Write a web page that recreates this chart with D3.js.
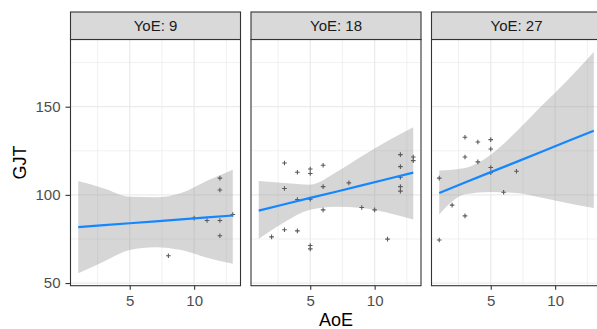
<!DOCTYPE html>
<html>
<head>
<meta charset="utf-8">
<script src="https://cdn.jsdelivr.net/npm/d3@7/dist/d3.min.js"></script>
<style>
  body { margin: 0; background: #fff; }
  svg { font-family: "Liberation Sans", Arial, sans-serif; display: block; }
</style>
</head>
<body>
<div id="chart"></div>
<script>
// facet labels
var facets = ["YoE: 9", "YoE: 18", "YoE: 27"];

// observed points, one list per facet: [AoE, GJT]
var points9 = [[12,109.5],[12,102.8],[10,86.8],[11,85.5],[12,85.5],[13,88.9],[12,76.8],[8,65.5]];
var points18 = [[2,76.2],[3,118.1],[3,103.6],[3,80.2],[4,112.8],[4,97.3],[4,79.6],[5,114.7],[5,112.1],
    [5,97.6],[5,71.3],[5,69.4],[6,116.8],[6,104.7],[6,91.5],[8,106.8],[9,92.8],[10,91.5],[11,74.9],
    [12,122.8],[12,116.0],[12,110.0],[12,104.7],[12,102.1],[13,121.5],[13,119.4]];
var points27 = [[1,109.5],[1,74.4],[2,94.2],[3,132.7],[3,121.5],[3,88.1],[4,130.0],[4,118.7],
    [5,131.3],[5,126.0],[5,115.5],[5,112.6],[6,101.5],[7,113.4]];

// fitted line and confidence band read at these AoE values
var fitX = [1, 3, 5, 7, 9, 11, 13];
var fit9 = [81.7, 82.8, 83.9, 85.0, 86.1, 87.2, 88.3];
var lo9  = [55.5, 62.2, 68.8, 70.3, 68.7, 64.4, 61.0];
var hi9  = [107.8, 103.6, 98.9, 98.7, 101.1, 108.0, 114.3];
var fit18 = [91.1, 94.7, 98.3, 101.8, 105.4, 109.0, 112.6];
var lo18  = [75.1, 84.5, 91.5, 93.2, 92.5, 89.9, 86.0];
var hi18  = [107.8, 106.7, 105.8, 112.8, 121.9, 130.5, 138.3];
var fit27 = [101.1, 107.0, 112.9, 118.7, 124.6, 130.5, 136.4];
var lo27  = [88.9, 100.3, 101.7, 101.0, 98.3, 95.2, 92.6];
var hi27  = [113.8, 115.3, 122.8, 136.0, 150.8, 165.3, 181.0];

var xTicks = [5, 10];
var yTicks = [50, 100, 150];
var xMinor = [2.5, 7.5, 12.5];
var yMinor = [75, 125, 175];

var panels = [
    {label: facets[0], pts: points9, fit: fit9, lo: lo9, hi: hi9},
    {label: facets[1], pts: points18, fit: fit18, lo: lo18, hi: hi18},
    {label: facets[2], pts: points27, fit: fit27, lo: lo27, hi: hi27}
];

var W = 597, H = 329;
var mLeft = 70.5, mTop = 39.5, pw = 170, ph = 246.2, gap = 10.5, stripH = 27.5;

var x = d3.scaleLinear().domain([0.4, 13.6]).range([0, pw]);
var y = d3.scaleLinear().domain([48.5, 188.1]).range([ph, 0]);

var svg = d3.select("#chart").append("svg")
    .attr("width", W)
    .attr("height", H);

var area = d3.area()
    .x(function(d) { return x(d[0]); })
    .y0(function(d) { return y(d[1]); })
    .y1(function(d) { return y(d[2]); })
    .curve(d3.curveMonotoneX);
var line = d3.line()
    .x(function(d) { return x(d[0]); })
    .y(function(d) { return y(d[1]); });

panels.forEach(function(p, i) {
    var ox = mLeft + i * (pw + gap);
    var g = svg.append("g").attr("transform", "translate(" + ox + "," + mTop + ")");

    g.append("clipPath").attr("id", "clip" + i)
        .append("rect").attr("width", pw).attr("height", ph);

    g.append("rect").attr("width", pw).attr("height", ph).attr("fill", "#fff");

    // grid
    g.selectAll(".gxm").data(xMinor).enter().append("line")
        .attr("x1", x).attr("x2", x).attr("y1", 0).attr("y2", ph)
        .attr("stroke", "#EBEBEB").attr("stroke-width", 0.7);
    g.selectAll(".gym").data(yMinor).enter().append("line")
        .attr("y1", y).attr("y2", y).attr("x1", 0).attr("x2", pw)
        .attr("stroke", "#EBEBEB").attr("stroke-width", 0.7);
    g.selectAll(".gx").data(xTicks).enter().append("line")
        .attr("x1", x).attr("x2", x).attr("y1", 0).attr("y2", ph)
        .attr("stroke", "#EBEBEB").attr("stroke-width", 1.3);
    g.selectAll(".gy").data(yTicks).enter().append("line")
        .attr("y1", y).attr("y2", y).attr("x1", 0).attr("x2", pw)
        .attr("stroke", "#EBEBEB").attr("stroke-width", 1.3);

    var band = fitX.map(function(v, j) { return [v, p.lo[j], p.hi[j]]; });
    var fl = fitX.map(function(v, j) { return [v, p.fit[j]]; });

    var inner = g.append("g").attr("clip-path", "url(#clip" + i + ")");
    inner.append("path").datum(band)
        .attr("d", area)
        .attr("fill", "#999999")
        .attr("fill-opacity", 0.4);

    inner.selectAll(".pt").data(p.pts).enter().append("path")
        .attr("transform", function(d) { return "translate(" + x(d[0]) + "," + y(d[1]) + ")"; })
        .attr("d", "M-2.3,0H2.3M0,-2.3V2.3")
        .attr("stroke", "#5a5a5a")
        .attr("stroke-width", 1.1);

    inner.append("path").datum(fl)
        .attr("d", line)
        .attr("fill", "none")
        .attr("stroke", "#1487FF")
        .attr("stroke-width", 2.2);

    g.append("rect").attr("width", pw).attr("height", ph)
        .attr("fill", "none").attr("stroke", "#333").attr("stroke-width", 1.1);

    // strip
    g.append("rect").attr("y", -stripH).attr("width", pw).attr("height", stripH)
        .attr("fill", "#D9D9D9").attr("stroke", "#333").attr("stroke-width", 1.1);
    g.append("text")
        .attr("x", pw / 2).attr("y", -stripH / 2)
        .attr("dy", "0.36em")
        .attr("text-anchor", "middle")
        .attr("font-size", "15px")
        .attr("fill", "#1A1A1A")
        .text(p.label);

    // x axis
    var ax = g.append("g")
        .attr("transform", "translate(0," + ph + ")")
        .call(d3.axisBottom(x).tickValues(xTicks).tickSize(4).tickPadding(6));
    ax.select(".domain").remove();
    ax.selectAll("line").attr("stroke", "#333").attr("stroke-width", 1.1);
    ax.selectAll("text").attr("font-size", "15px").attr("fill", "#4D4D4D")
        .style("font-family", "'Liberation Sans', Arial, sans-serif");

    if (i == 0) {
        var ay = g.append("g")
            .call(d3.axisLeft(y).tickValues(yTicks).tickSize(5).tickPadding(5));
        ay.select(".domain").remove();
        ay.selectAll("line").attr("stroke", "#333").attr("stroke-width", 1.1);
        ay.selectAll("text").attr("font-size", "15px").attr("fill", "#4D4D4D")
            .style("font-family", "'Liberation Sans', Arial, sans-serif");
    }
});

svg.append("text")
    .attr("transform", "translate(" + (mLeft + 1.5 * pw + gap) + "," + 325.5 + ")")
    .attr("text-anchor", "middle")
    .attr("font-size", "18px")
    .attr("fill", "#000")
    .text("AoE");

svg.append("text")
    .attr("transform", "translate(26," + (mTop + ph / 2) + ") rotate(-90)")
    .attr("text-anchor", "middle")
    .attr("font-size", "18px")
    .attr("fill", "#000")
    .text("GJT");
</script>
</body>
</html>
